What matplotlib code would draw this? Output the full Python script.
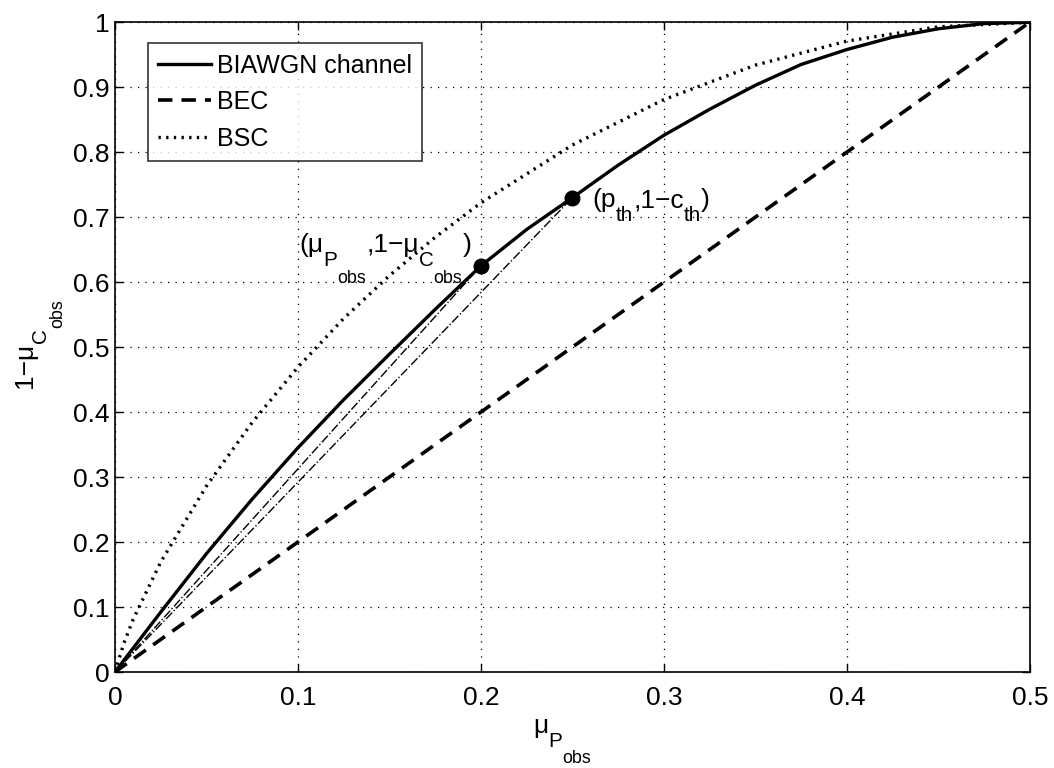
import numpy as np
import matplotlib
matplotlib.use("Agg")
import matplotlib.pyplot as plt

plt.rcParams['font.family'] = ['Liberation Sans', 'DejaVu Sans']

# values
p_awgn = [0, 0.025, 0.05, 0.075, 0.1, 0.125, 0.15, 0.175, 0.2, 0.225, 0.25,
          0.275, 0.3, 0.325, 0.35, 0.375, 0.4, 0.425, 0.45, 0.475, 0.5]
y_awgn = [0, 0.092, 0.182, 0.266, 0.345, 0.419, 0.489, 0.558, 0.625, 0.681, 0.73,
          0.78, 0.826, 0.866, 0.903, 0.935, 0.958, 0.977, 0.99, 0.998, 1.0]
p_bec = [0, 0.5]
y_bec = [0, 1.0]
p_bsc = [0, 0.005, 0.01, 0.025, 0.05, 0.075, 0.1, 0.125, 0.15, 0.175, 0.2,
         0.25, 0.3, 0.35, 0.4, 0.45, 0.5]
y_bsc = [0, 0.045, 0.081, 0.169, 0.286, 0.384, 0.469, 0.544, 0.61, 0.669, 0.722,
         0.811, 0.881, 0.934, 0.971, 0.993, 1.0]
pt_obs = (0.2, 0.625)
pt_th = (0.25, 0.73)
xticks = [0, 0.1, 0.2, 0.3, 0.4, 0.5]
xticklabels = ['0', '0.1', '0.2', '0.3', '0.4', '0.5']
yticks = [0, 0.1, 0.2, 0.3, 0.4, 0.5, 0.6, 0.7, 0.8, 0.9, 1.0]
yticklabels = ['0', '0.1', '0.2', '0.3', '0.4', '0.5', '0.6', '0.7', '0.8', '0.9', '1']

fs = 19
# (size scale, baseline drop in fs units) for normal text, subscript, sub-subscript
levels = {0: (1.0, 0.0), 1: (0.78, 0.53), 2: (0.68, 1.15)}


def rich(ax, xy, parts, coords='data', rotation=0):
    # matlab-like text with big subscripts, built piece by piece
    r = ax.figure.canvas.get_renderer()
    adv = 0.0
    for s, lev in parts:
        sc, drop = levels[lev]
        off = (drop * fs, adv) if rotation == 90 else (adv, -drop * fs)
        t = ax.annotate(s, xy=xy, xycoords=coords, xytext=off,
                        textcoords='offset points', fontsize=fs * sc,
                        rotation=rotation, rotation_mode='anchor',
                        ha='left', va='baseline', annotation_clip=False)
        bb = t.get_window_extent(r)
        w = bb.height if rotation == 90 else bb.width
        adv += w * 72.0 / ax.figure.dpi


fig = plt.figure(figsize=(10.54, 7.68), dpi=100)
ax = fig.add_axes([0.109, 0.125, 0.868, 0.846])

ax.plot(p_awgn, y_awgn, 'k-', lw=2.4, label='BIAWGN channel')
ax.plot(p_bec, y_bec, 'k--', lw=2.6, dashes=(4, 2.5), label='BEC')
ax.plot(p_bsc, y_bsc, 'k:', lw=2.4, dashes=(0.7, 1.6), label='BSC')

# chords from the origin to the two marked points
ax.plot([0, pt_obs[0]], [0, pt_obs[1]], 'k-.', lw=1.0)
ax.plot([0, pt_th[0]], [0, pt_th[1]], 'k-.', lw=1.0)
ax.plot([pt_obs[0], pt_th[0]], [pt_obs[1], pt_th[1]], 'ko', ms=10.5)

rich(ax, (0.101, 0.646), [('(μ', 0), ('P', 1), ('obs', 2), (',1−μ', 0),
                          ('C', 1), ('obs', 2), (')', 0)])
rich(ax, (0.261, 0.715), [('(p', 0), ('th', 1), (',1−c', 0), ('th', 1), (')', 0)])

# axis labels
rich(ax, (0.457, -0.094), [('μ', 0), ('P', 1), ('obs', 2)], coords='axes fraction')
rich(ax, (-0.091, 0.437), [('1−μ', 0), ('C', 1), ('obs', 2)], coords='axes fraction',
     rotation=90)

ax.set_xlim(0, 0.5)
ax.set_ylim(0, 1)
ax.set_xticks(xticks)
ax.set_xticklabels(xticklabels)
ax.set_yticks(yticks)
ax.set_yticklabels(yticklabels)
ax.tick_params(direction='in', top=True, right=True, labelsize=fs, length=6, width=1)
ax.tick_params(axis='x', pad=10)
ax.tick_params(axis='y', pad=4)
ax.grid(True, color='k', linestyle=(0, (1, 5)), lw=0.9)
for s in ax.spines.values():
    s.set_linewidth(1.2)

leg = ax.legend(loc='upper left', bbox_to_anchor=(0.036, 0.968), fontsize=18,
                frameon=True, fancybox=False, edgecolor='k', borderaxespad=0,
                handlelength=2.1, handletextpad=0.24, labelspacing=0.5,
                borderpad=0.42)
leg.get_frame().set_linewidth(1.2)

fig.savefig('out.png', dpi=100)
